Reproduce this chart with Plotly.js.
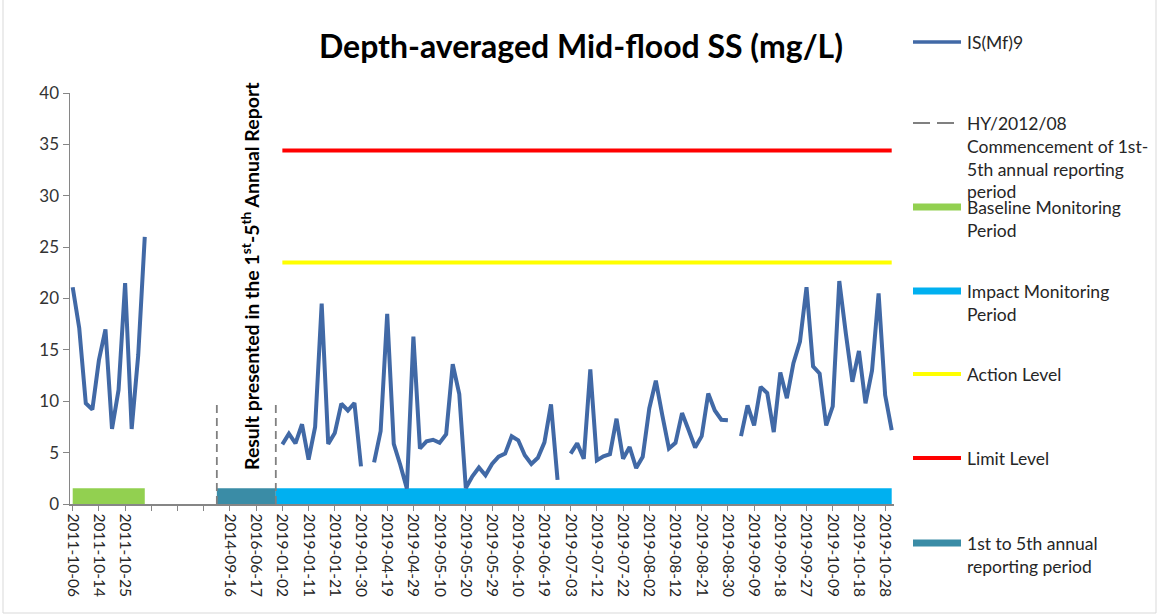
<!DOCTYPE html>
<html>
<head>
<meta charset="utf-8">
<script src="https://cdn.plot.ly/plotly-3.0.1.min.js"></script>
<style>html,body{margin:0;padding:0;background:#fff;}#chart{width:1159px;height:616px;}</style>
</head>
<body>
<div id="chart"></div>
<script>
// ---- data (category index on x; every 4th category carries a tick label) ----
const tickLabels = [
  "2011-10-06","2011-10-14","2011-10-25","","","",
  "2014-09-16","2016-06-17",
  "2019-01-02","2019-01-11","2019-01-21","2019-01-30","2019-04-19","2019-04-29",
  "2019-05-10","2019-05-20","2019-05-29","2019-06-10","2019-06-19","2019-07-03",
  "2019-07-12","2019-07-22","2019-08-02","2019-08-12","2019-08-21","2019-08-30",
  "2019-09-09","2019-09-18","2019-09-27","2019-10-09","2019-10-18","2019-10-28"
];
const tickStep = 4;

// Depth-averaged mid-flood SS, IS(Mf)9 (mg/L); null = no data
const ssValues = [
  21.1,17.1,9.8,9.2,14.0,17.0,7.3,11.1,21.5,7.3,14.5,26.0,          // 0-11 baseline
  null,null,null,null,null,null,null,null,null,null,                 // 12-21
  null,null,null,null,null,null,null,null,null,null,                 // 22-31
  5.8,6.85,5.9,7.76,4.31,7.5,19.5,5.85,6.9,9.77,9.1,9.83,3.66,null,  // 32-45
  4.05,7.1,18.5,5.85,3.8,1.5,16.3,5.4,6.1,6.25,5.95,6.8,13.6,10.7,   // 46-59
  1.55,2.7,3.55,2.8,3.9,4.6,4.9,6.6,6.2,4.75,3.9,4.5,6.0,9.7,2.35,    // 60-74
  null,4.9,5.9,4.4,13.1,4.25,4.65,4.85,8.3,4.4,5.55,3.5,4.6,9.3,12.0, // 75-89
  8.6,5.4,5.95,8.85,7.2,5.5,6.6,10.75,9.1,8.2,8.15,null,              // 90-101
  6.6,9.6,7.65,11.4,10.8,7.0,12.8,10.3,13.7,15.8,21.1,13.4,12.7,7.65, // 102-115
  9.5,21.7,16.6,11.9,14.9,9.8,13.0,20.5,10.6,7.2                      // 116-125
];

const baselinePeriod  = [0, 11];    // category span
const reportingPeriod = [22, 31];
const impactPeriod    = [31, 125];
const levelSpan       = [32, 125];
const actionLevel = 23.5;
const limitLevel  = 34.4;
const commencementIdx = [22, 31];   // HY/2012/08 dashed markers
const commencementTop = 10;
const bandLevel = 0.75;

// ---- build traces ----
const idx = ssValues.map((_, i) => i);
const tickvals = tickLabels.map((_, k) => k * tickStep);

const C = {
  series: '#4169a6', green: '#92d050', blue: '#00b0f0', teal: '#3a8ca6',
  yellow: '#ffff00', red: '#ff0000', dash: '#808080'
};

function band(span, color) {
  return {x: span, y: [bandLevel, bandLevel], mode: 'lines', type: 'scatter',
          line: {color: color, width: 16}, hoverinfo: 'skip', showlegend: false};
}
const traces = [
  band(baselinePeriod, C.green),
  band(reportingPeriod, C.teal),
  band(impactPeriod, C.blue),
  {x: levelSpan, y: [actionLevel, actionLevel], mode: 'lines', type: 'scatter',
   line: {color: C.yellow, width: 4}, showlegend: false, name: 'Action Level'},
  {x: levelSpan, y: [limitLevel, limitLevel], mode: 'lines', type: 'scatter',
   line: {color: C.red, width: 4}, showlegend: false, name: 'Limit Level'},
  ...commencementIdx.map(c => ({x: [c, c], y: [0, commencementTop], mode: 'lines', type: 'scatter',
   line: {color: C.dash, width: 1.8, dash: '8px,5px'}, showlegend: false})),
  {x: idx, y: ssValues, mode: 'lines', type: 'scatter', connectgaps: false,
   line: {color: C.series, width: 4, shape: 'linear'}, name: 'IS(Mf)9', showlegend: false}
];

// ---- layout helpers (pixel -> paper) ----
const L = 70, R = 894, T = 93, B = 504;
const px = x => (x - L) / (R - L);
const py = y => (B - y) / (B - T);
const FONT = 'Lato, "Open Sans", sans-serif';

const legendItems = [
  {y: 42,  color: C.series, width: 3.5, dash: 'solid', text: 'IS(Mf)9'},
  {y: 123, color: C.dash, width: 2, dash: '17px,7px', text: 'HY/2012/08<br>Commencement of 1st-<br>5th annual reporting<br>period'},
  {y: 207, color: C.green, width: 7, dash: 'solid', text: 'Baseline Monitoring<br>Period'},
  {y: 291, color: C.blue, width: 7, dash: 'solid', text: 'Impact Monitoring<br>Period'},
  {y: 374, color: C.yellow, width: 4, dash: 'solid', text: 'Action Level'},
  {y: 458, color: C.red, width: 4, dash: 'solid', text: 'Limit Level'},
  {y: 543, color: C.teal, width: 7, dash: 'solid', text: '1st to 5th annual<br>reporting period'}
];
const LFS = 17.5;
const LH = LFS * 1.3;
const shapes = [
  {type: 'rect', xref: 'paper', yref: 'paper', x0: px(3), x1: px(1156), y0: py(613), y1: py(-10),
   line: {color: '#d9d9d9', width: 1}, fillcolor: 'rgba(0,0,0,0)', layer: 'below'}
];
const annotations = [];
legendItems.forEach(it => {
  shapes.push({type: 'line', xref: 'paper', yref: 'paper', x0: px(913), x1: px(961), y0: py(it.y), y1: py(it.y),
               line: {color: it.color, width: it.width, dash: it.dash}});
  annotations.push({xref: 'paper', yref: 'paper', x: px(965), y: py(it.y - LH / 2 - 1), xanchor: 'left', yanchor: 'top',
                    align: 'left', showarrow: false, text: it.text, font: {family: FONT, size: LFS, color: '#262626'}});
});
annotations.push({xref: 'paper', yref: 'paper', x: px(250), y: py(276), xanchor: 'center', yanchor: 'middle',
  textangle: -90, showarrow: false, text: '<b>Result presented in the 1<sup>st</sup>-5<sup>th</sup> Annual Report</b>',
  font: {family: FONT, size: 19.5, color: '#000'}});

const layout = {
  width: 1159, height: 616,
  margin: {l: L, r: 1159 - R, t: T, b: 616 - B, pad: 0},
  paper_bgcolor: '#fff', plot_bgcolor: '#fff',
  showlegend: false,
  title: {text: '<b>Depth-averaged Mid-flood SS (mg/L)</b>', x: 581 / 1159, xanchor: 'center',
          y: 1 - 47 / 616, yanchor: 'middle', font: {family: FONT, size: 32, color: '#000'}},
  xaxis: {range: [(L - 72.7) / 6.552, (R - 72.7) / 6.552], tickmode: 'array', tickvals: tickvals, ticktext: tickLabels,
          tickangle: 90, ticks: 'outside', ticklen: 5, tickcolor: '#868686', showline: true, linecolor: '#868686',
          linewidth: 1.5, showgrid: false, zeroline: false, tickfont: {family: FONT, size: 15.5, color: '#262626'}},
  yaxis: {range: [0, 40], dtick: 5, ticks: 'outside', ticklen: 6, tickcolor: '#868686', showline: true,
          linecolor: '#868686', linewidth: 1.5, showgrid: false, zeroline: false,
          tickfont: {family: FONT, size: 17, color: '#333'}},
  shapes: shapes, annotations: annotations
};

Plotly.newPlot('chart', traces, layout, {displayModeBar: false, staticPlot: true});
</script>
</body>
</html>
